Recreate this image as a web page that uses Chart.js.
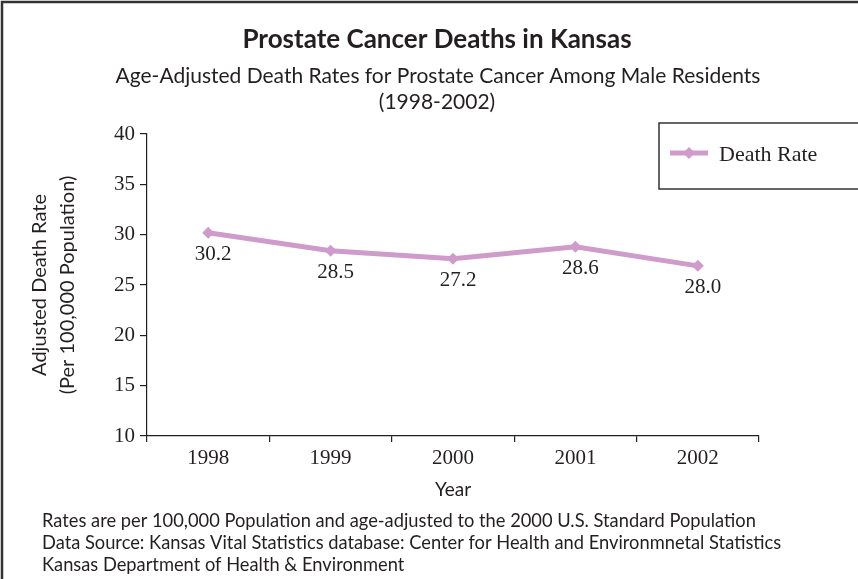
<!DOCTYPE html>
<html>
<head>
<meta charset="utf-8">
<script src="https://cdn.jsdelivr.net/npm/chart.js@4"></script>
<style>
  html, body { margin: 0; padding: 0; background: #fff; }
  #wrap { width: 858px; height: 579px; }
</style>
</head>
<body>
<div id="wrap"><canvas id="myChart" width="858" height="579"></canvas></div>
<script>
const years = ["1998", "1999", "2000", "2001", "2002"];
const deathRates = [30.2, 28.4, 27.6, 28.8, 26.9];
const rateLabels = ["30.2", "28.5", "27.2", "28.6", "28.0"];
const seriesName = "Death Rate";
const titleText = "Prostate Cancer Deaths in Kansas";
const subtitleLines = ["Age-Adjusted Death Rates for Prostate Cancer Among Male Residents", "(1998-2002)"];
const yTitleLines = ["Adjusted Death Rate", "(Per 100,000 Population)"];
const xTitle = "Year";
const footLines = [
  "Rates are per 100,000 Population and age-adjusted to the 2000 U.S. Standard Population",
  "Data Source: Kansas Vital Statistics database: Center for Health and Environmnetal Statistics",
  "Kansas Department of Health & Environment",
];

const ink = "#231f20";
const pink = "#cf9bcb";
const sans = "Lato, 'Open Sans', sans-serif";
const serif = "'Liberation Serif', 'DejaVu Serif', serif";

const pageText = {
  id: "pageText",
  afterDraw(chart) {
    const c = chart.ctx;
    c.save();
    // frame
    c.strokeStyle = "#333";
    c.lineWidth = 2.5;
    c.beginPath();
    c.moveTo(2, 579); c.lineTo(2, 2); c.lineTo(858, 2);
    c.stroke();
    // titles
    c.fillStyle = ink;
    c.textAlign = "center";
    c.textBaseline = "middle";
    c.font = "bold 26px " + sans;
    c.fillText(titleText, 437, 40);
    c.font = "21px " + sans;
    c.fillText(subtitleLines[0], 438, 76);
    c.fillText(subtitleLines[1], 437, 102);
    // footnote
    c.textAlign = "left";
    c.font = "18.3px " + sans;
    footLines.forEach((t, i) => c.fillText(t, 42, 521 + i * 22));
    // legend box
    c.strokeStyle = "#333";
    c.lineWidth = 1.5;
    c.strokeRect(659, 123, 215, 66);
    c.strokeStyle = pink;
    c.lineWidth = 5;
    c.beginPath(); c.moveTo(670, 153); c.lineTo(708, 153); c.stroke();
    c.fillStyle = pink;
    c.beginPath();
    c.moveTo(689, 147); c.lineTo(695, 153); c.lineTo(689, 159); c.lineTo(683, 153);
    c.closePath(); c.fill();
    c.fillStyle = ink;
    c.font = "22px " + serif;
    c.fillText(seriesName, 719, 155);
    c.restore();
  },
  afterDatasetsDraw(chart) {
    const c = chart.ctx;
    const meta = chart.getDatasetMeta(0);
    c.save();
    c.fillStyle = ink;
    c.font = "21px " + serif;
    c.textAlign = "center";
    c.textBaseline = "middle";
    meta.data.forEach((p, i) => c.fillText(rateLabels[i], p.x + 5, p.y + 22));
    c.restore();
  },
};

const ctx = document.getElementById("myChart");
const myChart = new Chart(ctx, {
  type: "line",
  data: {
    labels: years,
    datasets: [
      {
        label: seriesName,
        data: deathRates,
        borderColor: pink,
        backgroundColor: pink,
        borderWidth: 5,
        pointStyle: "rectRot",
        pointRadius: 6,
        pointBorderWidth: 0,
        tension: 0,
      },
    ],
  },
  options: {
    responsive: false,
    animation: false,
    layout: { padding: { left: 0, top: 134, right: 99, bottom: 73 } },
    plugins: { legend: { display: false }, tooltip: { enabled: false } },
    scales: {
      x: {
        offset: true,
        afterFit: (s) => { s.height = 70; },
        grid: { offset: true, drawOnChartArea: false, tickLength: 6, color: ink, lineWidth: 1.2 },
        border: { color: ink, width: 1.2 },
        ticks: { color: ink, font: { family: serif, size: 21 }, padding: 4, maxRotation: 0 },
        title: { display: true, text: xTitle, color: ink, font: { family: sans, size: 19 }, padding: { top: 0, bottom: 5 } },
      },
      y: {
        min: 10,
        max: 40,
        afterFit: (s) => { s.width = 147; },
        grid: { drawOnChartArea: false, tickLength: 7, color: ink, lineWidth: 1.2 },
        border: { color: ink, width: 1.2 },
        ticks: { stepSize: 5, color: ink, font: { family: serif, size: 21 }, padding: 5 },
        title: { display: true, text: yTitleLines, color: ink, font: { family: sans, size: 20, lineHeight: 1.4 }, padding: { top: 26, bottom: 0 } },
      },
    },
  },
  plugins: [pageText],
});
</script>
</body>
</html>
